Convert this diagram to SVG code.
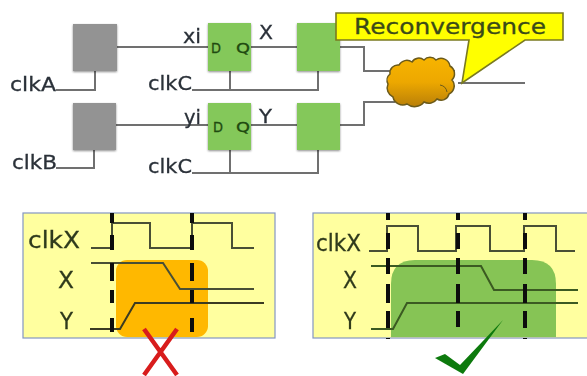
<svg xmlns="http://www.w3.org/2000/svg" width="587" height="376" viewBox="0 0 587 376">
<style>
text{font-family:"DejaVu Sans","Liberation Sans",sans-serif;fill:#2a3038;stroke:#2a3038;stroke-width:0.3}
.lbl{font-size:20px}
.big{font-size:23px;fill:#2f3a1c;stroke:#2f3a1c}
.ff{font-size:14px;fill:#1f4a10;stroke:#1f4a10}
.w{fill:none;stroke:#6f6f6f;stroke-width:2}
.s{fill:none;stroke:#4a4f35;stroke-width:2}
.d1{fill:none;stroke:#111;stroke-width:4;stroke-dasharray:10 12 15 13 18 9 13 15 14}
.d2{fill:none;stroke:#111;stroke-width:4;stroke-dasharray:7 13 16 9 16 10 19 8 17 10 2}
.grey{fill:#939393;filter:url(#sh)}
.green{fill:#84c85a;filter:url(#sh)}
.panel{fill:#ffff9f;stroke:#8496c4;stroke-width:1.2}
</style>
<defs>
<filter id="sh" x="-15%" y="-15%" width="130%" height="130%"><feGaussianBlur in="SourceAlpha" stdDeviation="1.2"/><feOffset dy="1"/><feComponentTransfer><feFuncA type="linear" slope="0.45"/></feComponentTransfer><feMerge><feMergeNode/><feMergeNode in="SourceGraphic"/></feMerge></filter>
<filter id="soft"><feGaussianBlur stdDeviation="0.45"/></filter>
<linearGradient id="cl" x1="0" y1="0" x2="0" y2="1"><stop offset="0" stop-color="#f7b400"/><stop offset="0.5" stop-color="#eda800"/><stop offset="1" stop-color="#b97f08"/></linearGradient>
</defs>
<rect width="587" height="376" fill="#fff"/>
<g id="connectors" filter="url(#soft)">
<path class="w" d="M117 47H208M251 47H297M340 47H364V71H392"/>
<path class="w" d="M116 125H208M251 125H297M340 125H364V102H395"/>
<path class="w" d="M95 71V90H56"/>
<path class="w" d="M94 150V168H56"/>
<path class="w" d="M192 90H318V71"/>
<path class="w" d="M230 71V90"/>
<path class="w" d="M192 173H318V150"/>
<path class="w" d="M230 150V173"/>
<path class="w" d="M450 71H455M458 83H525"/>
</g>
<g id="node-srcA"><rect class="grey" x="73" y="24" width="44" height="47"/></g>
<g id="node-srcB"><rect class="grey" x="73" y="103" width="43" height="47"/></g>
<g id="node-ffX"><rect class="green" x="208" y="23" width="43" height="48"/><text class="ff" x="211" y="53" textLength="10" lengthAdjust="spacingAndGlyphs">D</text><text class="ff" x="236" y="53" textLength="14" lengthAdjust="spacingAndGlyphs">Q</text></g>
<g id="node-ffY"><rect class="green" x="208" y="103" width="43" height="47"/><text class="ff" x="213" y="132" textLength="10" lengthAdjust="spacingAndGlyphs">D</text><text class="ff" x="236" y="132" textLength="14" lengthAdjust="spacingAndGlyphs">Q</text></g>
<g id="node-ffX2"><rect class="green" x="297" y="23" width="43" height="48"/></g>
<g id="node-ffY2"><rect class="green" x="297" y="103" width="43" height="47"/></g>
<g id="labels" filter="url(#soft)">
<text class="lbl" x="183" y="43" textLength="18" lengthAdjust="spacingAndGlyphs">xi</text>
<text class="lbl" x="259" y="39" textLength="14" lengthAdjust="spacingAndGlyphs">X</text>
<text class="lbl" x="184" y="124" textLength="17" lengthAdjust="spacingAndGlyphs">yi</text>
<text class="lbl" x="259" y="123" textLength="13" lengthAdjust="spacingAndGlyphs">Y</text>
<text class="lbl" x="10" y="91" textLength="46" lengthAdjust="spacingAndGlyphs">clkA</text>
<text class="lbl" x="12" y="169" textLength="45" lengthAdjust="spacingAndGlyphs">clkB</text>
<text class="lbl" x="148" y="90" textLength="44" lengthAdjust="spacingAndGlyphs">clkC</text>
<text class="lbl" x="148" y="173" textLength="44" lengthAdjust="spacingAndGlyphs">clkC</text>
</g>
<g id="node-cloud">
<path d="M390 74A8 8 0 0 1 399 65A9 9 0 0 1 412 62A8 8 0 0 1 424 60A8 8 0 0 1 436 60A9 9 0 0 1 450 66A9 9 0 0 1 452 80A9 9 0 0 1 449 94A8 8 0 0 1 437 99A10 10 0 0 1 424 102A12 12 0 0 1 407 104A10 10 0 0 1 393 97A10 10 0 0 1 388 84A8 8 0 0 1 390 74Z" fill="url(#cl)" stroke="#6b5a1a" stroke-width="1.5"/>
<path d="M440 85Q446 86 447 92" fill="none" stroke="#6b5a1a" stroke-width="1"/>
</g>
<g id="node-callout">
<path d="M336 13H563V40H525L462 83L469 40H336Z" fill="#ffff00" stroke="#7a7a20" stroke-width="1.6"/>
<text x="354" y="34" font-size="22" textLength="192" lengthAdjust="spacingAndGlyphs" style="fill:#3a4a18;stroke:#3a4a18">Reconvergence</text>
</g>
<g id="node-panel-bad" filter="url(#soft)">
<rect class="panel" x="23" y="213" width="252" height="125"/>
<rect x="116" y="260" width="92" height="77" rx="11" fill="#ffb800"/>
<path class="s" d="M91 248H112V223H150V248H192V223H232V248H254"/>
<path class="s" d="M91 263H163L180 289H254"/>
<path class="s" d="M90 329H120L135 303H264" style="stroke:#3b3b20"/>
<path class="d1" d="M112 213V333M192 213V333"/>
<text class="big" x="28" y="248" textLength="52" lengthAdjust="spacingAndGlyphs">clkX</text>
<text class="big" x="58" y="288" textLength="16" lengthAdjust="spacingAndGlyphs">X</text>
<text class="big" x="60" y="329" textLength="13" lengthAdjust="spacingAndGlyphs">Y</text>
<path d="M144 329L177 375M177 329L144 375" fill="none" stroke="#d81c1c" stroke-width="4.500"/>
</g>
<g id="node-panel-good" filter="url(#soft)">
<rect class="panel" x="313" y="213" width="276" height="125"/>
<path d="M391 337V284Q391 260 415 260H532Q556 260 556 284V337Z" fill="#86c455"/>
<path class="s" d="M369 251H387V226H418V251H456V226H490V251H524V226H556V251H575"/>
<path class="s" d="M371 266H481L494 290H578" style="stroke:#3a5a20"/>
<path class="s" d="M371 329H393L407 303H578" style="stroke:#3a5a20"/>
<path class="d2" d="M388 213V339M458 213V327M525 213V339"/>
<text class="big" x="316" y="251" textLength="45" lengthAdjust="spacingAndGlyphs">clkX</text>
<text class="big" x="343" y="288" textLength="14" lengthAdjust="spacingAndGlyphs">X</text>
<text class="big" x="344" y="329" textLength="12" lengthAdjust="spacingAndGlyphs">Y</text>
<path d="M435 358L445 354L460 365L503 320L463 374Z" fill="#0f7a0f"/>
</g>
</svg>
